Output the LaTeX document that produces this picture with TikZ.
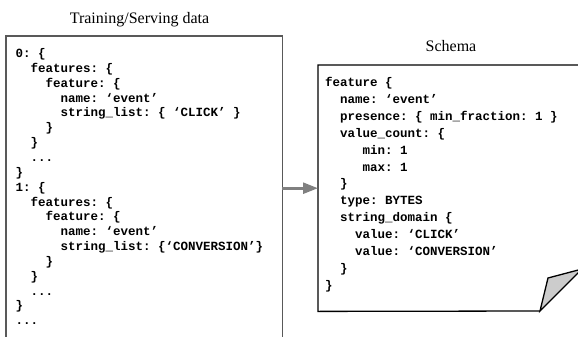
\documentclass[tikz,border=0pt]{standalone}
\usepackage{fontspec}
\setmainfont{Liberation Serif}
\setmonofont{Liberation Mono}
\usetikzlibrary{arrows.meta,math}

\tikzset{
  codeline/.style={anchor=base west, inner sep=0pt, font=\ttfamily\bfseries\fontsize{12.5}{15}\selectfont},
  heading/.style={anchor=base, inner sep=0pt, font=\fontsize{16}{19}\selectfont},
  docbox/.style={draw=none, inner sep=0pt, anchor=north west},
  flow/.style={draw=black!50, line width=2.6pt, -{Triangle[length=15pt,width=11pt]}},
}

\begin{document}
\begin{tikzpicture}[x=1pt,y=-1pt]
  \useasboundingbox (0,0) rectangle (578,337);

  % titles
  \node[heading] (datatitle) at (139.5,24) {Training/Serving data};
  \node[heading] (schematitle) at (451,52) {Schema};

  % boxes
  \node[docbox, minimum width=276pt, minimum height=330pt] (databox) at (6,36) {};
  \node[docbox, minimum width=264pt, minimum height=246pt] (schemabox) at (318,65) {};
  \draw[black!65, line width=1.2pt] (databox.south west) -- (databox.north west)
    -- (databox.north east) -- (databox.south east);

  \coordinate (fold) at (540,311);
  \coordinate (flap) at (548,278);
  \coordinate (edge) at (582,269);
  \draw[line width=1.3pt, line join=miter] (edge) -- (schemabox.north east)
    -- (schemabox.north west) -- (schemabox.south west) -- (fold);
  \draw[line width=1.3pt, fill=black!20] (fold) -- (flap) -- (edge) -- cycle;

  \draw[flow] (databox.east |- schemabox.west) -- (schemabox.west);

  % data lines
  \foreach \n/\txt [count=\i] in {
      0/{0: \{}, 2/{features: \{}, 4/{feature: \{}, 6/{name: ‘event’},
      6/{string\_list: \{ ‘CLICK’ \}}, 4/\}, 2/\}, 2/{...}, 0/\},
      0/{1: \{}, 2/{features: \{}, 4/{feature: \{}, 6/{name: ‘event’},
      6/{string\_list: \{‘CONVERSION’\}}, 4/\}, 2/\}, 2/{...}, 0/\}, 0/{...}} {
    \tikzmath{
      real \x;
      real \y;
      \x = 15.5 + \n*7.5;
      \y = 57.5 + (\i-1)*14.85;
    }
    \node[codeline] (data\i) at (\x,\y) {\txt};
  }

  % schema lines
  \foreach \n/\txt [count=\i] in {
      0/{feature \{}, 2/{name: ‘event’}, 2/{presence: \{ min\_fraction: 1 \}},
      2/{value\_count: \{}, 5/{min: 1}, 5/{max: 1}, 2/\}, 2/{type: BYTES},
      2/{string\_domain \{}, 4/{value: ‘CLICK’}, 4/{value: ‘CONVERSION’},
      2/\}, 0/\}} {
    \tikzmath{
      real \x;
      real \y;
      \x = 325 + \n*7.5;
      \y = 86.5 + (\i-1)*16.9;
    }
    \node[codeline] (schema\i) at (\x,\y) {\txt};
  }
\end{tikzpicture}
\end{document}
